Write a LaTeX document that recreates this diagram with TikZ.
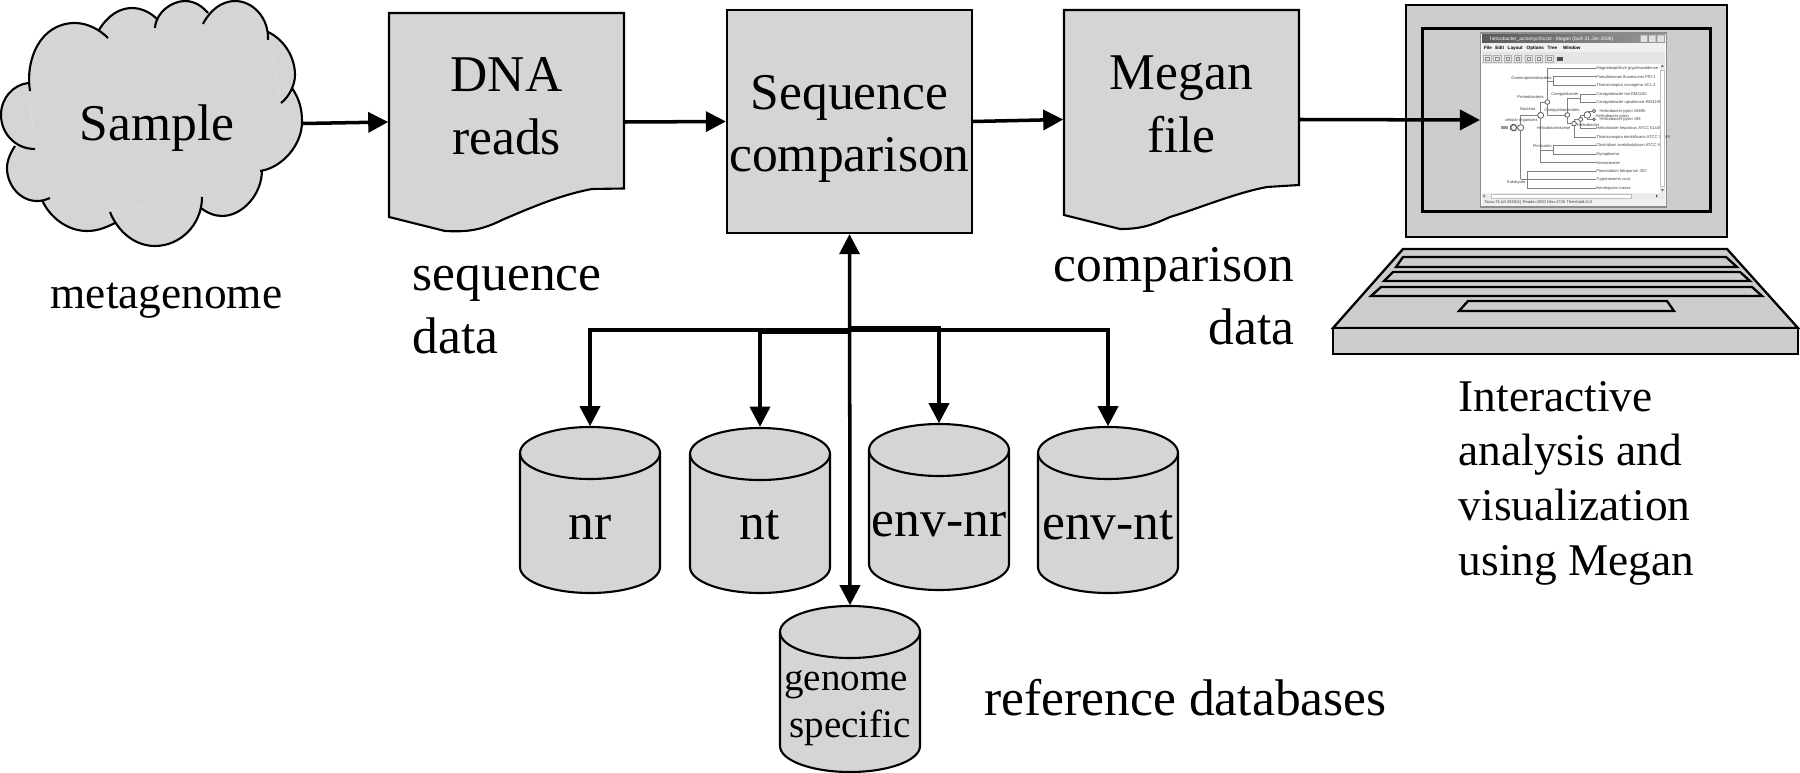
\documentclass[tikz,border=0pt]{standalone}
\usepackage{fontspec}
\setmainfont{Liberation Serif}
\newfontfamily\winfont{Liberation Sans}
\usetikzlibrary{arrows.meta}
\definecolor{boxgray}{HTML}{D5D5D5}
\definecolor{laptopgray}{HTML}{CDCDCD}
\newcommand{\bigtext}{\fontsize{14.65pt}{17.64pt}\selectfont}
\newcommand{\midtext}{\fontsize{12.9pt}{15.53pt}\selectfont}
\newcommand{\cloudlobes}{(30,91) .. controls (25,60) and (40,23) .. (75,23) .. controls (88,23) and (100,30) .. (108,38)
  (99,30) .. controls (108,15) and (120,8) .. (132,8) .. controls (142,8) and (151,13) .. (157,19)
  (155,28) .. controls (156,12) and (172,1) .. (185,1) .. controls (195,1) and (203,7) .. (208,13)
  (203,24) .. controls (210,10) and (222,1) .. (235,1) .. controls (253,1) and (269,18) .. (268,40)
  (268,32) .. controls (285,40) and (295,58) .. (295,75) .. controls (295,85) and (289,97) .. (281,103)
  (292,88) .. controls (300,100) and (302,110) .. (302,122) .. controls (302,145) and (282,168) .. (260,171)
  (262,170) .. controls (262,195) and (242,216) .. (222,216) .. controls (215,216) and (207,213) .. (201,208)
  (202,197) .. controls (202,225) and (180,246) .. (155,246) .. controls (135,246) and (118,232) .. (110,212)
  (115,223) .. controls (105,228) and (97,231) .. (87,231) .. controls (68,231) and (50,218) .. (42,200)
  (50,198) .. controls (45,200) and (42,201) .. (37,201) .. controls (20,201) and (7,185) .. (7,168) .. controls (7,160) and (11,152) .. (15,146)
  (35,149) .. controls (15,149) and (1,133) .. (1,115) .. controls (1,98) and (13,85) .. (28,83)}
% drum: centre x, top y, lower y of its side walls
\newcommand{\drum}[3]{\draw[shape line] (#1-70,#2+26) -- (#1-70,#3) arc[start angle=180,end angle=0,x radius=70,y radius=26]
    -- (#1+70,#2+26) arc[start angle=0,end angle=-180,x radius=70,y radius=26] -- cycle;
  \draw[shape line,fill=none] (#1-70,#2+26) arc[start angle=180,end angle=0,x radius=70,y radius=26];}

\begin{document}
\begin{tikzpicture}[x=0.01cm,y=-0.01cm,>={Triangle[length=5.7pt,width=5.7pt]},
    shape line/.style={draw=black,line width=0.6pt,fill=boxgray},
    laptop line/.style={draw=black,line width=0.65pt,fill=laptopgray},
    link/.style={line width=1pt,->},
    main node/.style={inner sep=0pt,font=\bigtext,align=center},
    box node/.style={main node,rectangle,minimum width=2.35cm},
    db node/.style={main node,rectangle,minimum width=1.4cm,minimum height=1.66cm,text height=0.78cm,text depth=0.2cm},
    caption node/.style={inner sep=0pt,font=\bigtext},
    small node/.style={inner sep=0pt,font=\midtext},
    leaf node/.style={inner sep=0pt,anchor=west,text=black!75,font=\winfont\fontsize{1.15pt}{1.4pt}\selectfont},
    inner node/.style={leaf node,anchor=east},
    menu node/.style={inner sep=0pt,anchor=west,font=\winfont\bfseries\fontsize{1.3pt}{1.6pt}\selectfont},
    tree line/.style={draw=black!50,line width=0.22pt},
    tree dot/.style={draw=black!60,fill=white,line width=0.25pt}]

  \useasboundingbox (0,0) rectangle (1800,773);

  % sample cloud
  \fill[boxgray] (30,91) -- (108,38) -- (99,30) -- (157,18) -- (155,28) -- (208,13) -- (203,24) -- (268,40) -- (268,32)
    -- (281,103) -- (292,88) -- (260,171) -- (262,170) -- (201,208) -- (202,197) -- (110,212) -- (115,223) -- (42,200)
    -- (50,198) -- (15,146) -- (35,149) -- (28,83) -- cycle;
  \fill[boxgray] \cloudlobes;
  \draw[line width=0.6pt] \cloudlobes;
  \node[main node,minimum width=2.9cm,minimum height=2.45cm,text height=0.5cm,text depth=0.17cm] (sample) at (157,123.5) {Sample};

  % sheets and the comparison box
  \draw[shape line] (389,13) -- (624,13) -- (624,188.5) -- (592,189) .. controls (560,195) and (530,208) .. (502,220)
    .. controls (480,231) and (465,232) .. (445,231) -- (389,217) -- cycle;
  \node[box node,minimum height=2.18cm,text height=0.96cm,text depth=0.32cm] (dna) at (506.5,122) {DNA\\reads};
  \node[box node,shape line,minimum width=2.45cm,minimum height=2.23cm,text height=1.3cm,text depth=0.3cm] (seq) at (849.5,121.5) {Sequence\\comparison};
  \draw[shape line] (1064,10) -- (1299,10) -- (1299,185) -- (1267,187) .. controls (1235,193) and (1200,208) .. (1170,217)
    .. controls (1150,226) and (1140,229) .. (1120,229) -- (1064,215) -- cycle;
  \node[box node,minimum height=2.19cm,text height=0.95cm,text depth=0.3cm] (megan) at (1181.5,119.5) {Megan\\file};

  % databases
  \drum{590}{427}{567}
  \drum{760}{428}{567}
  \drum{939}{424}{564}
  \drum{1108}{427}{567}
  \drum{850}{606}{746}
  \node[db node] (nr) at (590,510) {nr};
  \node[db node] (nt) at (760,510.5) {nt};
  \node[db node] (envnr) at (939,507) {env-nr};
  \node[db node] (envnt) at (1108,510) {env-nt};
  \node[db node,font=\fontsize{11.1pt}{13.1pt}\selectfont,text height=1.2cm,text depth=0.24cm] (genome) at (850,689) {genome\hspace*{0.08cm}\\specific};

  % laptop
  \draw[laptop line] (1403,249) -- (1727,249) -- (1798,328) -- (1333,328) -- cycle;
  \draw[laptop line] (1333,328) rectangle (1798,354);
  \draw[laptop line] (1403,257) -- (1726,257) -- (1737,267) -- (1396,267) -- cycle;
  \draw[laptop line] (1393,272) -- (1740,272) -- (1750,281) -- (1384,281) -- cycle;
  \draw[laptop line] (1381,287) -- (1752,287) -- (1762,296) -- (1371,296) -- cycle;
  \draw[laptop line] (1468,301) -- (1667,301) -- (1674,311) -- (1459,311) -- cycle;
  \node[laptop line,minimum width=3.21cm,minimum height=2.32cm,inner sep=0pt] (monitor) at (1566.5,121) {};
  \node[draw=black,line width=0.85pt,fill=laptopgray,minimum width=2.87cm,minimum height=1.82cm,inner sep=0pt] (display) at (1566.5,120) {};

  % the program window, typed in thirds of a pixel
  \node[draw=black!45,line width=0.4pt,fill=white,minimum width=1.855cm,minimum height=1.74cm,inner sep=0pt] (window) at (1573.5,120) {};
  \begin{scope}[shift={(1400,0)},scale=0.33333]
    \shade[left color=black!65,right color=black!40] (246,103) rectangle (795,130);
    \fill[black!6] (246,130) rectangle (795,157);
    \fill[black!10] (246,157) rectangle (795,192);
    \fill[black!12] (722,106) rectangle (742,126) (747,106) rectangle (767,126) (772,106) rectangle (792,126);
    \node[menu node,font=\winfont\fontsize{1.4pt}{1.6pt}\selectfont,text=white] (title) at (268,117) {helicobacter\_acinonychis.txt - Megan (built 31 Jan 2006)};
    \foreach \x/\t [count=\i] in {250/File,284/Edit,321/Layout,378/Options,441/Tree,487/Window}
      \node[menu node] (menu\i) at (\x,144) {\t};
    \foreach \x in {262,292,323,353,387,417,448}{
      \draw[black!30,line width=0.2pt] (\x-11,165) rectangle (\x+11,186);
      \draw[black!45,line width=0.25pt] (\x-5,171) rectangle (\x+5,180);
    }
    \fill[black!70] (472,170) rectangle (488,184);

    \draw[tree line] (362,538) -- (362,346) -- (422,346) (362,538) -- (382,538)
      (587,513) -- (382,513) -- (382,565) -- (587,565) (382,539) -- (587,539)
      (442,306) -- (422,306) -- (422,488) -- (587,488) (422,450) -- (460,450)
      (587,436) -- (460,436) -- (460,462) -- (587,462)
      (587,205) -- (442,205) -- (442,345) -- (502,345) (442,243) -- (460,243)
      (587,230) -- (460,230) -- (460,256) -- (587,256)
      (522,371) -- (502,371) -- (502,295) -- (540,295)
      (587,282) -- (540,282) -- (540,308) -- (587,308)
      (522,358) -- (522,411) -- (587,411) (522,358) -- (542,358)
      (562,345) -- (542,345) -- (542,384) -- (587,384)
      (582,333) -- (562,333) -- (562,358) -- (582,358);
    \foreach \x/\y/\r in {362/383/9,422/346/9,442/306/7,502/345/7,522/371/7,542/358/6,562/345/10,582/333/5,582/358/4}
      \draw[tree dot] (\x,\y) circle (\r);
    \draw[tree dot,rounded corners=1pt] (332,374) rectangle (350,392);
    \fill[black!40] (302,378) rectangle (323,388);

    \foreach \y/\t [count=\i] in {205/Magnetospirillum gryphiswaldense,230/Pseudomonas fluorescens PfO-1,
        256/Thiomicrospira crunogena XCL-2,282/Campylobacter lari RM2100,308/Campylobacter upsaliensis RM3195,
        384/Helicobacter hepaticus ATCC 51449,411/Thiomicrospira denitrificans ATCC 33889,
        436/Clostridium acetobutylicum ATCC 824,462/Mycoplasma,488/Nostocaceae,
        513/Plasmodium falciparum 3D7,539/Trypanosoma cruzi,565/Neurospora crassa}
      \node[leaf node] (leaf\i) at (587,\y) {\t};
    \node[leaf node] (hpa) at (597,333) {Helicobacter pylori 26695};
    \node[leaf node] (hpb) at (585,348) {Helicobacter pylori};
    \node[leaf node] (hpc) at (597,358) {Helicobacter pylori J99};
    \foreach \x/\y/\t [count=\i] in {457/234/Gammaproteobacteria,433/291/Proteobacteria,538/284/Campylobacter,
        408/328/Bacteria,540/331/Campylobacterales,415/361/cellular organisms,600/374/Helicobacter,
        513/384/Helicobacteraceae,457/439/Firmicutes,378/548/Eukaryota}
      \node[inner node] (group\i) at (\x,\y) {\t};

    % scroll bars and status line
    \fill[black!8] (779,193) rectangle (795,578);
    \draw[black!25,line width=0.2pt,fill=white] (781,212) rectangle (793,560);
    \fill[black!70] (782,200) -- (792,200) -- (787,195) -- cycle (782,568) -- (792,568) -- (787,573) -- cycle;
    \fill[black!8] (246,579) rectangle (795,597);
    \draw[black!25,line width=0.2pt,fill=white] (275,582) rectangle (695,595);
    \fill[black!70] (254,583) -- (254,593) -- (249,588) -- cycle (768,583) -- (768,593) -- (773,588) -- cycle;
    \fill[black!6] (246,598) rectangle (795,617);
    \node[leaf node] (status) at (251,608) {Taxa=76 (of 283601) Reads=2000 Hits=1726 Threshold=0.0};
  \end{scope}

  % connectors
  \coordinate (busnr) at (849.5,330);
  \coordinate (busnt) at (849.5,332);
  \coordinate (busenvnr) at (849.5,328);
  \path[link]
    (sample.east) edge (dna.west)
    (dna.east) edge (seq.west)
    (seq.east) edge (megan.west)
    (megan.east) edge (window.west);
  \draw[link] (busnr) -| (nr.north);
  \draw[link] (busnt) -| (nt.north);
  \draw[link] (busenvnr) -| (envnr.north);
  \draw[link] (busnr) -| (envnt.north);
  \draw[link,<->] (seq.south) -- (genome.north);

  % captions
  \node[small node,anchor=base] (metagenome) at (166.5,308) {metagenome};
  \node[caption node,anchor=base west,align=left] (seqdata) at (412,353) {sequence\\data};
  \node[caption node,anchor=base east,align=right] (compdata) at (1295,344) {comparison\\data};
  \node[small node,anchor=base west,align=left] (analysis) at (1458,575) {Interactive\\analysis and\\visualization\\using Megan};
  \node[caption node,anchor=base west] (refdb) at (984,715) {reference databases};
\end{tikzpicture}
\end{document}
